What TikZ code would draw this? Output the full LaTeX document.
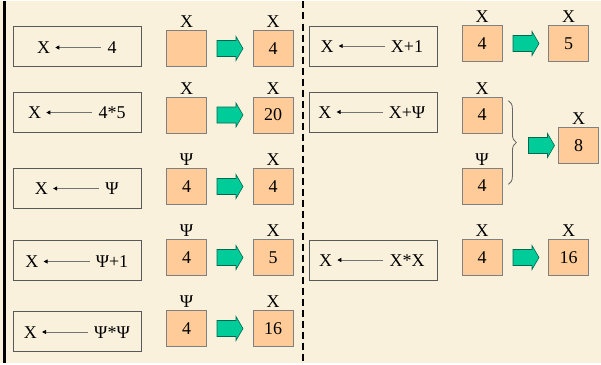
\documentclass[tikz,border=0pt]{standalone}
\usepackage{fontspec}
\setmainfont{Liberation Serif}
\usetikzlibrary{arrows.meta,positioning,decorations.pathreplacing}
\definecolor{paper}{RGB}{250,241,220}
\definecolor{apricot}{RGB}{255,204,153}
\definecolor{mint}{RGB}{0,204,153}
\definecolor{mintdark}{RGB}{0,105,80}

\tikzset{
  pics/fatarrow/.style={code={
    \draw[draw=mintdark, fill=mint, line width=0.6pt, line join=miter]
      (-13,-8) -- (6,-8) -- (6,-12) -- (13,0) -- (6,12) -- (6,8) -- (-13,8) -- cycle;
  }},
}

\begin{document}
\begin{tikzpicture}[
  x=1pt, y=-1pt,
  font=\fontsize{18}{21}\selectfont,
  >={Triangle[length=4pt,width=4pt,color=black]},
  stmt/.style={draw=black!65, line width=0.8pt, minimum width=128pt, minimum height=40pt, inner sep=0pt},
  word/.style={inner sep=0pt, text height=12pt, text depth=0pt},
  cell/.style={draw=black!50, fill=apricot, line width=0.8pt, minimum width=40pt, minimum height=36pt, inner sep=0pt},
  assign/.style={<-, draw=black!55, line width=0.8pt, shorten <=5pt, shorten >=6pt},
  node distance=2pt,
]
  \fill[paper] (0,0) rectangle (601,361);
  \draw[line width=3pt] (4.5,0) -- (4.5,361);
  \draw[line width=1.8pt, dash pattern=on 7pt off 4pt] (303,0) -- (303,361);

  % statements, left column
  \node[stmt] (s1) at (77,45) {};
  \node[word] (s1v) at (112,46) {4};
  \node[word, left=57pt of s1v] (s1x) {X};
  \draw[assign] (s1x) -- (s1v);

  \node[stmt] (s2) at (77,110.5) {};
  \node[word] (s2v) at (112,111) {4*5};
  \node[word, left=57pt of s2v] (s2x) {X};
  \draw[assign] (s2x) -- (s2v);

  \node[stmt] (s3) at (77,187) {};
  \node[word] (s3v) at (112,187) {Ψ};
  \node[word, left=57pt of s3v] (s3x) {X};
  \draw[assign] (s3x) -- (s3v);

  \node[stmt] (s4) at (77,259) {};
  \node[word] (s4v) at (112,260) {Ψ+1};
  \node[word, left=57pt of s4v] (s4x) {X};
  \draw[assign] (s4x) -- (s4v);

  \node[stmt] (s5) at (77,329.5) {};
  \node[word] (s5v) at (112,330.5) {Ψ*Ψ};
  \node[word, left=57pt of s5v] (s5x) {X};
  \draw[assign] (s5x) -- (s5v);

  % memory cells, left column
  \node[cell] (a1) at (186.5,47) {};    \pic (g1) at (230,47) {fatarrow};    \node[cell] (b1) at (273,47) {4};
  \node[cell] (a2) at (186.5,113.5) {}; \pic (g2) at (230,113.5) {fatarrow}; \node[cell] (b2) at (273,113.5) {20};
  \node[cell] (a3) at (186.5,185) {4};  \pic (g3) at (230,185) {fatarrow};   \node[cell] (b3) at (273,185) {4};
  \node[cell] (a4) at (186.5,256) {4};  \pic (g4) at (230,256) {fatarrow};   \node[cell] (b4) at (273,256) {5};
  \node[cell] (a5) at (186.5,327) {4};  \pic (g5) at (230,327) {fatarrow};   \node[cell] (b5) at (273,327) {16};

  \node[word, above=of a1] (la1) {X}; \node[word, above=of b1] (lb1) {X};
  \node[word, above=of a2] (la2) {X}; \node[word, above=of b2] (lb2) {X};
  \node[word, above=of a3] (la3) {Ψ}; \node[word, above=of b3] (lb3) {X};
  \node[word, above=of a4] (la4) {Ψ}; \node[word, above=of b4] (lb4) {X};
  \node[word, above=of a5] (la5) {Ψ}; \node[word, above=of b5] (lb5) {X};

  % statements, right column
  \node[stmt] (t1) at (373,44.5) {};
  \node[word] (t1v) at (407,44.5) {X+1};
  \node[word, left=57pt of t1v] (t1x) {X};
  \draw[assign] (t1x) -- (t1v);

  \node[stmt] (t2) at (373,110.5) {};
  \node[word] (t2v) at (407,110.5) {X+Ψ};
  \node[word, left=57pt of t2v] (t2x) {X};
  \draw[assign] (t2x) -- (t2v);

  \node[stmt] (t3) at (373,258.5) {};
  \node[word] (t3v) at (407,258.5) {X*X};
  \node[word, left=57pt of t3v] (t3x) {X};
  \draw[assign] (t3x) -- (t3v);

  % memory cells, right column
  \node[cell] (c1) at (482,42) {4};     \pic (h1) at (526,42) {fatarrow};    \node[cell] (d1) at (568.5,42) {5};
  \node[cell] (c2) at (482,113.5) {4};
  \node[cell] (c3) at (482,184.5) {4};
  \pic (h2) at (541.5,144) {fatarrow};  \node[cell] (d2) at (578.5,144) {8};
  \node[cell] (c4) at (482,256) {4};    \pic (h4) at (526,256) {fatarrow};   \node[cell] (d4) at (568.5,256) {16};

  \node[word, above=of c1] (lc1) {X}; \node[word, above=of d1] (ld1) {X};
  \node[word, above=of c2] (lc2) {X};
  \node[word, above=of c3] (lc3) {Ψ}; \node[word, above=of d2] (ld2) {X};
  \node[word, above=of c4] (lc4) {X}; \node[word, above=of d4] (ld4) {X};

  \draw[black!60, line width=0.8pt, decorate, decoration={brace, amplitude=8pt}]
    ([xshift=6pt, yshift=-4pt]c2.north east) -- ([xshift=6pt, yshift=20pt]c3.south east);
\end{tikzpicture}
\end{document}
